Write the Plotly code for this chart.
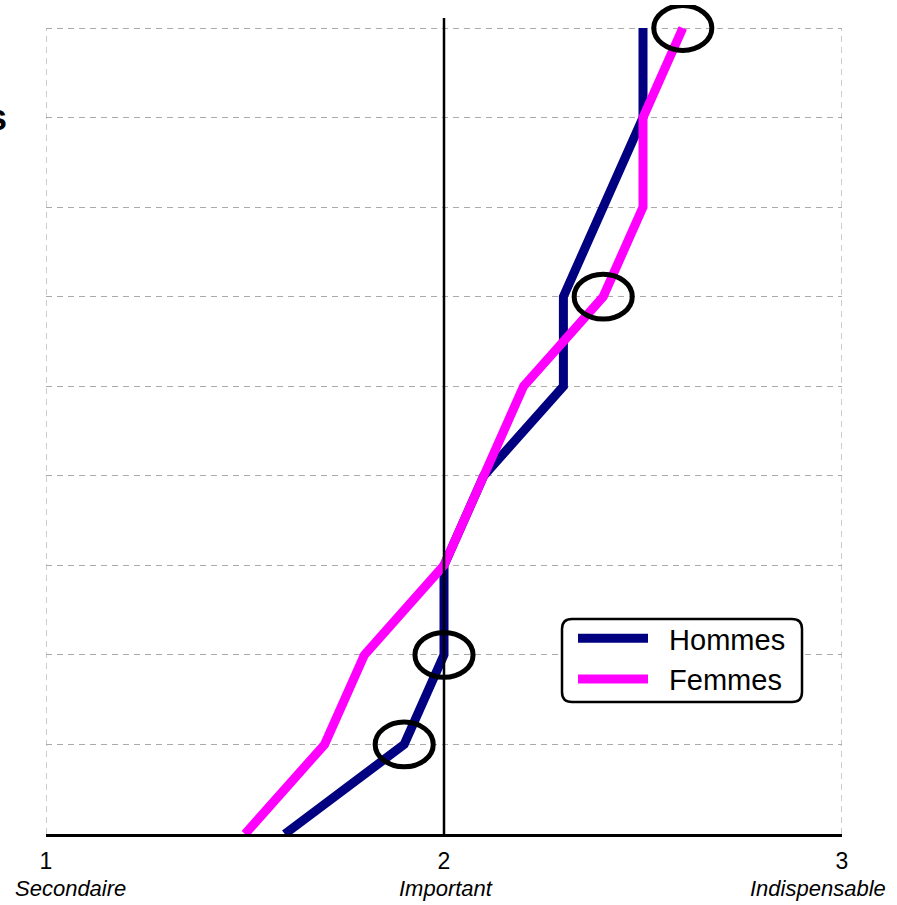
import plotly.graph_objects as go

levels = [0, 1, 2, 3, 4, 5, 6, 7, 8, 9]
hommes = [1.6, 1.9, 2.0, 2.0, 2.1, 2.3, 2.3, 2.4, 2.5, 2.5]
femmes = [1.5, 1.7, 1.8, 2.0, 2.1, 2.2, 2.4, 2.5, 2.5, 2.6]
x_ticks = [1, 2, 3]
x_tick_labels = ["1", "2", "3"]
x_words = ["Secondaire", "Important", "Indispensable"]
# highlighted points: (series, level index)
highlights = [("femmes", 9), ("femmes", 6), ("hommes", 2), ("hommes", 1)]

FONT = "Liberation Sans, Arial, sans-serif"
NB = "\u00a0"

fig = go.Figure()
fig.add_trace(go.Scatter(x=hommes, y=levels, mode="lines", name=NB * 2 + "Hommes",
                         line=dict(color="#000080", width=9)))
fig.add_trace(go.Scatter(x=femmes, y=levels, mode="lines", name=NB * 2 + "Femmes",
                         line=dict(color="#FF00FF", width=9)))

L, R, T, B = 46, 842, 5, 834
YTOP = (B - T) / ((834 - 28) / 9)  # data value at the top of the plot area
def px(xp): return (xp - L) / (R - L)
def py(yp): return (B - yp) / (B - T)

shapes = []
for xv in (1, 3):
    shapes.append(dict(type="line", xref="x", yref="y", x0=xv, x1=xv, y0=0, y1=9,
                       line=dict(color="#aaaaaa", width=1.2, dash="6px,5px"), layer="below"))
shapes.append(dict(type="line", xref="x", yref="paper", x0=2, x1=2, y0=0, y1=py(18),
                   line=dict(color="black", width=2.5)))
series = {"hommes": hommes, "femmes": femmes}
for name, i in highlights:
    cx = series[name][i]
    cy = levels[i]
    shapes.append(dict(type="circle", xref="x", yref="y",
                       x0=cx - 0.073, x1=cx + 0.073, y0=cy - 0.25, y1=cy + 0.25,
                       line=dict(color="black", width=5)))
x0, x1, y0, y1, r = 562, 802, 619, 702, 10
path = (f"M {px(x0 + r)},{py(y0)} L {px(x1 - r)},{py(y0)} Q {px(x1)},{py(y0)} {px(x1)},{py(y0 + r)} "
        f"L {px(x1)},{py(y1 - r)} Q {px(x1)},{py(y1)} {px(x1 - r)},{py(y1)} "
        f"L {px(x0 + r)},{py(y1)} Q {px(x0)},{py(y1)} {px(x0)},{py(y1 - r)} "
        f"L {px(x0)},{py(y0 + r)} Q {px(x0)},{py(y0)} {px(x0 + r)},{py(y0)} Z")
shapes.append(dict(type="path", xref="paper", yref="paper", path=path,
                   fillcolor="white", line=dict(color="black", width=2.5), layer="above"))

annotations = []
word_pos = {"Secondaire": (px(70), "center"),
            "Important": (px(446), "center"),
            "Indispensable": (px(888), "right")}
for w in x_words:
    ax, anchor = word_pos[w]
    annotations.append(dict(x=ax, y=0, xref="paper", yref="paper", yanchor="middle", xanchor=anchor,
                            yshift=-54, text=f"<i>{w}</i>", showarrow=False,
                            font=dict(family=FONT, size=22, color="black")))
annotations.append(dict(x=0, y=py(117), xref="paper", yref="paper", xanchor="right",
                        yanchor="middle", xshift=-37, text="<b>s</b>", showarrow=False,
                        font=dict(family=FONT, size=36, color="black")))

fig.update_layout(
    width=897, height=905,
    margin=dict(l=46, r=55, t=5, b=71),
    paper_bgcolor="white", plot_bgcolor="white",
    font=dict(family=FONT, color="black"),
    xaxis=dict(range=[1, 3], tickvals=x_ticks, ticktext=x_tick_labels,
               showgrid=False, zeroline=False, showline=True, linecolor="black", linewidth=2.5,
               ticks="inside", ticklen=5, tickcolor="#888", ticklabelstandoff=5,
               tickfont=dict(family=FONT, size=23, color="black")),
    yaxis=dict(range=[0, YTOP], tickvals=levels[1:], showticklabels=False,
               showgrid=True, gridcolor="#aaaaaa", gridwidth=1.2, griddash="6px,5px",
               zeroline=False, showline=False),
    shapes=shapes, annotations=annotations,
    legend=dict(x=px(573), y=py(613), xanchor="left", yanchor="top",
                bgcolor="rgba(0,0,0,0)", itemwidth=70,
                font=dict(family=FONT, size=29, color="black"), tracegroupgap=0),
    showlegend=True,
)
fig.write_html("out.html", config={"displayModeBar": False},
               post_script="document.body.style.margin='0px';")
